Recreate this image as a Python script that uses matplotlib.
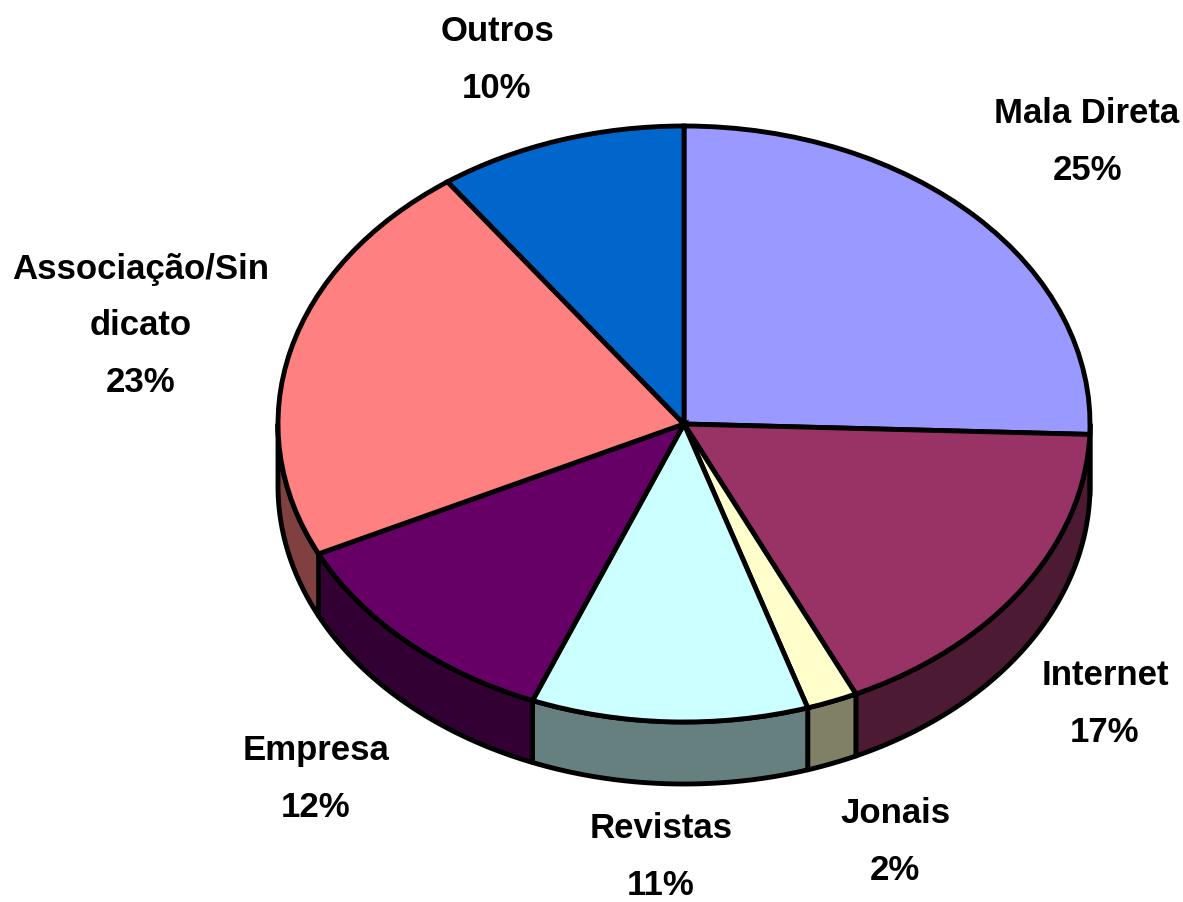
import numpy as np
import matplotlib
matplotlib.use("Agg")
import matplotlib.pyplot as plt

categories = ["Mala Direta", "Internet", "Jonais", "Revistas", "Empresa", "Associação/Sin\ndicato", "Outros"]
values = [25, 17, 2, 11, 12, 23, 10]
top_colors = ["#9999FF", "#993366", "#FFFFCC", "#CCFFFF", "#660066", "#FF8080", "#0066CC"]
side_colors = ["#4D4D80", "#4D1A33", "#808066", "#668080", "#330033", "#804040", "#003366"]
labels_pct = ["25%", "17%", "2%", "11%", "12%", "23%", "10%"]
label_px = [(1087, 142), (1105, 704), (895, 842), (661, 857), (316, 779), (141, 326), (497, 60)]

W, H = 1183, 902
cx, cy, rx, ry, depth = 684, 424, 406, 298, 62
LW = 3.5


def skew(theta):
    """Tilted-view shift of the rim: angles are pushed clockwise towards the front."""
    clockwise = (90 - theta) % 360
    return theta - 2.0 * (1 - np.cos(np.radians(clockwise)))


plt.rcParams["font.family"] = ["Liberation Sans", "DejaVu Sans"]
fig = plt.figure(figsize=(W / 100, H / 100), dpi=100)
ax = fig.add_axes([0, 0, 1, 1])

wedges, _ = ax.pie(values, colors=top_colors, startangle=90, counterclock=False,
                   wedgeprops=dict(edgecolor="black", linewidth=LW, zorder=5))
ax.set_aspect("auto")
ax.set_xlim(-cx / rx, (W - cx) / rx)
ax.set_ylim((cy - H) / ry, cy / ry)
ax.axis("off")

dz = depth / ry
for w, c in zip(wedges, side_colors):
    a0, a1 = skew(w.theta1), skew(w.theta2)
    if w.theta2 - w.theta1 < 359 and a1 < a0:
        a1 += 360
    w.set_theta1(a0)
    w.set_theta2(a1)
    for shift in (0, -360, 360):
        lo, hi = max(a0 + shift, 180), min(a1 + shift, 360)
        if lo < hi:
            t = np.radians(np.linspace(lo, hi, 80))
            x, y = np.cos(t), np.sin(t)
            ax.fill(np.r_[x, x[::-1]], np.r_[y, y[::-1] - dz], facecolor=c,
                    edgecolor="black", linewidth=LW, zorder=2, joinstyle="round")

for name, pct, (px, py) in zip(categories, labels_pct, label_px):
    fig.text(px / W, 1 - py / H, name + "\n" + pct,
             ha="center", va="center", fontsize=25, fontweight="bold",
             linespacing=1.92, color="black")

fig.savefig("out.png", dpi=100)
